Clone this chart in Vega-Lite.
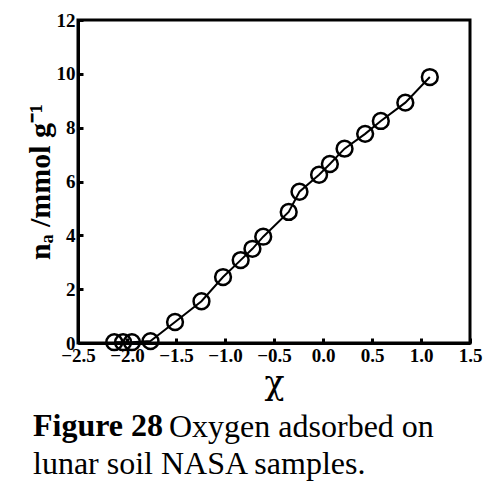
{
  "$schema": "https://vega.github.io/schema/vega-lite/v6.json",
  "autosize": "none",
  "width": 392,
  "height": 323,
  "padding": {"left": 78, "top": 20, "right": 16, "bottom": 144},
  "background": "white",
  "data": {"values": [
    {"chi": -2.13, "na": 0.03},
    {"chi": -2.04, "na": 0.03},
    {"chi": -1.95, "na": 0.03},
    {"chi": -1.76, "na": 0.07},
    {"chi": -1.51, "na": 0.78},
    {"chi": -1.24, "na": 1.55},
    {"chi": -1.02, "na": 2.45},
    {"chi": -0.84, "na": 3.08},
    {"chi": -0.72, "na": 3.5},
    {"chi": -0.61, "na": 3.95},
    {"chi": -0.35, "na": 4.87},
    {"chi": -0.24, "na": 5.62},
    {"chi": -0.04, "na": 6.25},
    {"chi": 0.07, "na": 6.65},
    {"chi": 0.22, "na": 7.22},
    {"chi": 0.43, "na": 7.77},
    {"chi": 0.59, "na": 8.25},
    {"chi": 0.84, "na": 8.93},
    {"chi": 1.09, "na": 9.88}
  ]},
  "encoding": {
    "x": {"field": "chi", "type": "quantitative",
      "scale": {"domain": [-2.5, 1.5], "nice": false, "zero": false},
      "axis": {"title": "χ", "values": [-2.5, -2.0, -1.5, -1.0, -0.5, 0.0, 0.5, 1.0, 1.5], "format": ".1f",
        "titleFont": "DejaVu Serif", "titleFontSize": 33, "titleFontWeight": "normal", "titlePadding": 2}},
    "y": {"field": "na", "type": "quantitative",
      "scale": {"domain": [0, 12], "nice": false},
      "axis": {"title": "nₐ /mmol g⁻¹", "values": [0, 2, 4, 6, 8, 10, 12],
        "titleFont": "Liberation Serif", "titleFontSize": 30, "titleFontWeight": "bold", "titlePadding": 1}}
  },
  "layer": [
    {"mark": {"type": "line", "color": "black", "strokeWidth": 2}},
    {"mark": {"type": "point", "shape": "circle", "filled": false, "size": 250, "stroke": "black", "strokeWidth": 2.5, "opacity": 1}}
  ],
  "title": {
    "text": "Figure 28",
    "subtitle": ["\u200b\u00a0\u00a0\u00a0\u00a0\u00a0\u00a0\u00a0\u00a0\u00a0\u00a0\u00a0\u00a0\u00a0\u00a0\u00a0\u00a0\u00a0Oxygen adsorbed on", "lunar soil NASA samples."],
    "orient": "bottom", "anchor": "start", "frame": "group",
    "font": "Liberation Serif", "fontSize": 32, "fontWeight": "bold", "color": "black",
    "subtitleFont": "Liberation Serif", "subtitleFontSize": 32, "subtitleFontWeight": "normal", "subtitleColor": "black",
    "lineHeight": 36, "subtitleLineHeight": 37, "subtitlePadding": -31,
    "dx": -45, "offset": 11
  },
  "config": {
    "view": {"stroke": "black", "strokeWidth": 3},
    "axis": {
      "grid": false,
      "domainColor": "black", "domainWidth": 3,
      "tickColor": "black", "tickWidth": 3, "tickSize": -5,
      "labelFont": "Liberation Serif", "labelFontSize": 19, "labelFontWeight": "bold", "labelColor": "black",
      "labelPadding": 8, "titleColor": "black", "labelOverlap": false, "labelFlush": false
    }
  }
}
